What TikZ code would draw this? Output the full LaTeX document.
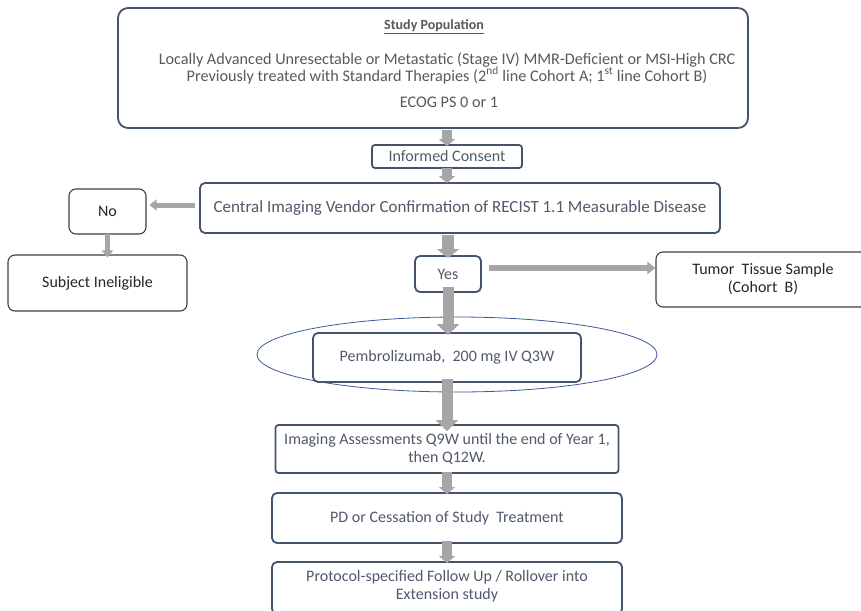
\documentclass[tikz,border=0pt]{standalone}
\usepackage{fontspec}
\setmainfont{Carlito}
\usetikzlibrary{arrows.meta,positioning}
\definecolor{slate}{HTML}{44546A}
\definecolor{dline}{HTML}{404040}
\definecolor{gtext}{HTML}{595959}
\definecolor{stext}{HTML}{505A6A}
\definecolor{ktext}{HTML}{262626}
\definecolor{garrow}{HTML}{A6A6A6}
\definecolor{ellblue}{HTML}{3B5A9A}
\tikzset{
  mainbox/.style={draw=slate, line width=1.8pt, fill=white, rounded corners=5pt, inner sep=0pt, text=stext, align=center, font=\fontsize{16}{18}\selectfont},
  sidebox/.style={draw=dline, line width=1.1pt, fill=white, rounded corners=7pt, inner sep=0pt, text=ktext, align=center, font=\fontsize{16}{18}\selectfont},
  bigarrow/.style={draw=garrow, line width=11pt, -{Triangle[width=22pt,length=11pt]}},
  smallarrow/.style={draw=garrow, line width=10pt, -{Triangle[width=16pt,length=7pt]}},
  thinarrow/.style={draw=garrow, line width=5pt, -{Triangle[width=11pt,length=7pt]}},
  txt/.style={text=gtext, font=\fontsize{16.2}{18}\selectfont, inner sep=0pt}
}
\begin{document}
\begin{tikzpicture}[x=1pt,y=-1pt]
\useasboundingbox (0,0) rectangle (861,610);
% Study population
\node[mainbox, rounded corners=10pt, minimum width=630pt, minimum height=120pt] (sp) at (433,68) {};
\node[txt, font=\fontsize{14}{16}\selectfont\bfseries] (spt) at (434,27) {\underline{Study Population}};
\node[txt] (spl1) at (447,59.5) {Locally Advanced Unresectable or Metastatic (Stage IV) MMR-Deficient or MSI-High CRC};
\node[txt] (spl2) at (447,75.5) {Previously treated with Standard Therapies (2\textsuperscript{nd} line Cohort A; 1\textsuperscript{st} line Cohort B)};
\node[txt] (spl3) at (449,102) {ECOG PS 0 or 1};
% Informed consent
\node[mainbox, rounded corners=3pt, minimum width=150pt, minimum height=23pt] (ic) at (447,156.5) {Informed Consent};
% Central imaging
\node[mainbox, font=\fontsize{17}{19}\selectfont, minimum width=520pt, minimum height=50pt] (ci) at (460,208) {Central Imaging Vendor Confirmation of RECIST 1.1 Measurable Disease};
% No
\node[sidebox, minimum width=77pt, minimum height=45pt] (no) at (107.5,211.5) {No};
\node[sidebox, minimum width=179pt, minimum height=56pt] (si) at (97.5,283) {Subject Ineligible};
% Yes
\node[mainbox, minimum width=66pt, minimum height=36pt] (yes) at (448,274) {Yes};
\node[sidebox, minimum width=214pt, minimum height=55pt] (tt) at (763,279.5) {Tumor\ \ Tissue Sample\\(Cohort\ \ B)};
% Ellipse and Pembrolizumab
\draw[ellblue, line width=0.8pt] (457,354.5) ellipse [x radius=200pt, y radius=37.5pt];
\node[mainbox, minimum width=268pt, minimum height=49pt] (pe) at (447,357.5) {Pembrolizumab,\ \ 200 mg IV Q3W};
% Imaging assessments
\node[mainbox, rounded corners=3pt, minimum width=343pt, minimum height=48pt] (ia) at (447,449) {Imaging Assessments Q9W until the end of Year 1,\\then Q12W.};
% PD
\node[mainbox, minimum width=350pt, minimum height=50pt] (pd) at (447,518) {PD or Cessation of Study\ \ Treatment};
% Protocol
\node[mainbox, minimum width=350pt, minimum height=52pt] (pf) at (447,588) {};
\node[txt, text=stext, font=\fontsize{16}{18}\selectfont, align=center] (pft) at (447,586) {Protocol-specified Follow Up / Rollover into\\Extension study};
% arrows
\draw[smallarrow] (sp.south -| ic.north) ++(0,1.5) coordinate (a1) -- ([yshift=-2pt]ic.north);
\draw[smallarrow] ([yshift=1pt]ic.south) -- ([yshift=-1pt]ci.north -| ic.south);
\draw[thinarrow] ([xshift=-4pt]ci.west |- 0,205) -- ([xshift=3pt]no.east |- 0,205);
\draw[thinarrow] ([yshift=1pt]no.south) -- ([yshift=-3pt]si.north -| no.south);
\draw[smallarrow, line width=12pt, -{Triangle[width=22pt,length=9pt]}] (ci.south -| yes.north) ++(0,1.5) coordinate (a5) -- ([yshift=-3pt]yes.north);
\draw[thinarrow, line width=6pt, -{Triangle[width=12pt,length=8pt]}] ([xshift=7pt]yes.east |- 0,268) -- (tt.west |- 0,268);
\draw[bigarrow] ([yshift=6pt]yes.south) -- ([yshift=-3pt]pe.north -| yes.south);
\draw[bigarrow] ([yshift=4pt]pe.south) -- ([yshift=-7pt]ia.north -| pe.south);
\draw[smallarrow] ([yshift=2pt]ia.south) -- ([yshift=-2pt]pd.north);
\draw[smallarrow] ([yshift=3pt]pd.south) -- ([yshift=-2pt]pf.north);
\end{tikzpicture}
\end{document}
